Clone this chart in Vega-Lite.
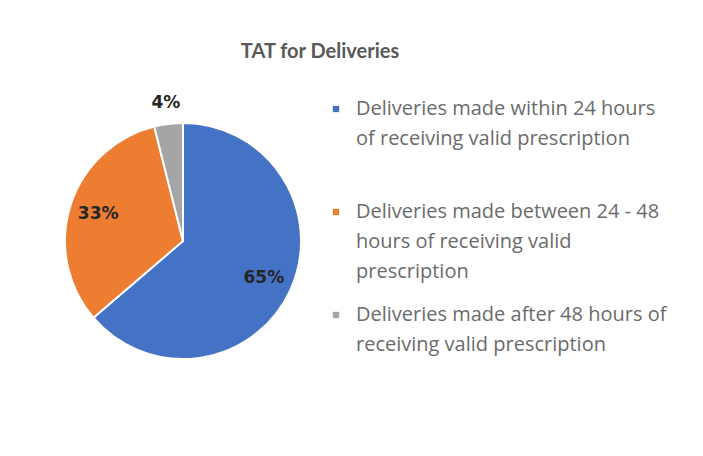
{
  "$schema": "https://vega.github.io/schema/vega-lite/v6.json",
  "width": 236,
  "height": 236,
  "autosize": "none",
  "padding": {"left": 65, "top": 123, "right": 402, "bottom": 97},
  "background": "white",
  "config": {
    "view": {"stroke": null},
    "font": "Lato",
    "style": {"guide-label": {"lineHeight": 30}}
  },
  "title": {
    "text": "TAT for Deliveries",
    "anchor": "middle",
    "dx": 137,
    "offset": 32,
    "fontSize": 20,
    "fontWeight": "bold",
    "color": "#595959",
    "font": "Lato"
  },
  "data": {
    "values": [
      {"name": "Deliveries made within 24 hours\nof receiving valid prescription", "value": 65, "label": "65%", "rank": 1},
      {"name": "Deliveries made between 24 - 48\nhours of receiving valid\nprescription", "value": 33, "label": "33%", "rank": 2},
      {"name": "Deliveries made after 48 hours of\nreceiving valid prescription", "value": 4, "label": "4%", "rank": 3}
    ]
  },
  "encoding": {
    "theta": {"field": "value", "type": "quantitative", "stack": true},
    "order": {"field": "rank", "type": "quantitative"}
  },
  "layer": [
    {
      "mark": {"type": "arc", "outerRadius": 118, "stroke": "white", "strokeWidth": 2},
      "encoding": {
        "color": {
          "field": "name",
          "type": "nominal",
          "sort": {"field": "rank"},
          "scale": {"range": ["#4472C4", "#ED7D31", "#A5A5A5"]},
          "legend": {
            "title": null,
            "orient": "none",
            "legendX": 261,
            "legendY": -24,
            "symbolType": "square",
            "symbolSize": 40,
            "symbolStrokeWidth": 0,
            "labelFont": "Open Sans",
            "labelFontSize": 20,
            "labelColor": "#6b6b6b",
            "labelOffset": 10,
            "labelLimit": 500,
            "labelBaseline": "middle",
            "labelExpr": "split(datum.label, '\\n')",
            "gridAlign": "all",
            "rowPadding": 23,
            "encode": {"labels": {"update": {"lineHeight": {"value": 30}}}}
          }
        }
      }
    },
    {
      "mark": {"type": "text", "radius": 89, "fontSize": 17, "fontWeight": "bold", "font": "DejaVu Sans", "color": "#262626"},
      "encoding": {
        "detail": {"field": "name", "type": "nominal"},
        "text": {"condition": {"test": "datum.value >= 10", "field": "label"}, "value": ""}
      }
    },
    {
      "mark": {"type": "text", "radius": 139, "fontSize": 17, "fontWeight": "bold", "font": "DejaVu Sans", "color": "#262626"},
      "encoding": {
        "detail": {"field": "name", "type": "nominal"},
        "text": {"condition": {"test": "datum.value < 10", "field": "label"}, "value": ""}
      }
    }
  ]
}
